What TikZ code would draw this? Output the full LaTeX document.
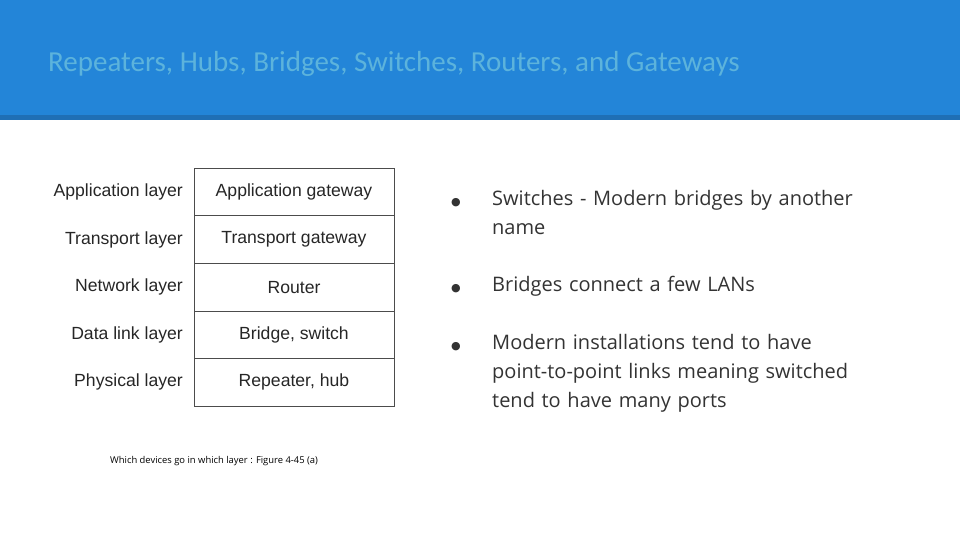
\documentclass[tikz,border=0pt]{standalone}
\usepackage{fontspec}
\setmainfont{Open Sans}
\newfontfamily\titlefont{Carlito}
\newfontfamily\tabfont{Liberation Sans}
\newfontfamily\symfont{DejaVu Sans}
\definecolor{hdr}{HTML}{2385D8}
\definecolor{hdrdark}{HTML}{1F6FB5}
\definecolor{ttl}{HTML}{5CB3DC}
\definecolor{txt}{HTML}{333333}
\tikzset{x=1pt,y=-1pt,
 cell/.style={draw=black!70,line width=0.8pt,minimum width=200pt,minimum height=47.6pt,inner sep=0pt,font=\tabfont\fontsize{17.6}{20}\selectfont,text=black!85},
 lab/.style={anchor=east,font=\tabfont\fontsize{17.6}{20}\selectfont,text=black!85},
 bul/.style={anchor=north west,inner sep=0pt,text width=375pt,align=left,font=\fontsize{20}{29}\selectfont,text=txt},
 dot/.style={font=\symfont\fontsize{11}{12}\selectfont,text=txt}}
\begin{document}
\begin{tikzpicture}
\useasboundingbox (0,0) rectangle (960,540);
\fill[hdr] (0,0) rectangle (960,115);
\fill[hdrdark] (0,115) rectangle (960,120);
\node[anchor=west,inner sep=0pt,text=ttl,font=\titlefont\fontsize{29}{32}\selectfont] (title) at (48,64) {Repeaters, Hubs, Bridges, Switches, Routers, and Gateways};
\foreach \i/\t/\l in {0/Application gateway/Application layer,1/Transport gateway/Transport layer,2/Router/Network layer,3/{Bridge, switch}/Data link layer,4/{Repeater, hub}/Physical layer}{
  \node[cell] (c\i) at (294,192+\i*47.6) {\t};
  \node[lab,inner sep=0pt] (l\i) at (183,192+\i*47.6) {\l};
}
\node[anchor=west,inner sep=0pt,font=\fontsize{9.4}{11}\selectfont,text=black] (cap) at (110,461) {Which devices go in which layer : Figure 4-45 (a)};
\node[bul] (b1) at (492,190) {Switches - Modern bridges by another name};
\node[bul] (b2) at (492,276) {Bridges connect a few LANs};
\node[bul] (b3) at (492,334) {Modern installations tend to have point-to-point links meaning switched tend to have many ports};
\node[dot] (d1) at (456,203) {●};
\node[dot] (d2) at (456,289) {●};
\node[dot] (d3) at (456,347) {●};
\end{tikzpicture}
\end{document}
